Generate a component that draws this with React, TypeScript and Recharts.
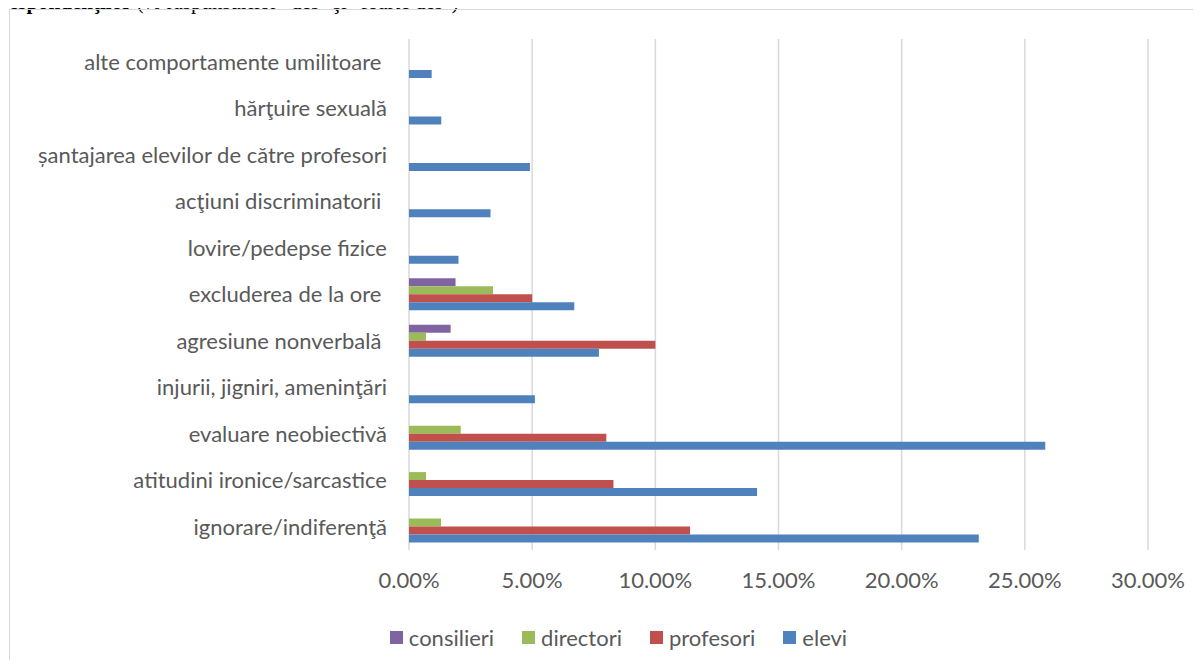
import React from 'react';
import {
  BarChart,
  Bar,
  XAxis,
  YAxis,
  CartesianGrid,
  Legend,
} from 'recharts';

const CATEGORIES = [
  'alte comportamente umilitoare\u00a0',
  'hărţuire sexuală',
  'șantajarea elevilor de către profesori',
  'acţiuni discriminatorii\u00a0',
  'lovire/pedepse fizice',
  'excluderea de la ore\u00a0',
  'agresiune nonverbală\u00a0',
  'injurii, jigniri, ameninţări',
  'evaluare neobiectivă',
  'atitudini ironice/sarcastice',
  'ignorare/indiferenţă',
];

// values in %, null = no answer for that group
const CONSILIERI = [null, null, null, null, null, 1.89, 1.69, null, null, null, null];
const DIRECTORI = [null, null, null, null, null, 3.41, 0.69, null, 2.1, 0.69, 1.3];
const PROFESORI = [null, null, null, null, null, 5.0, 10.0, null, 8.01, 8.3, 11.41];
const ELEVI = [0.92, 1.31, 4.91, 3.31, 2.01, 6.71, 7.71, 5.11, 25.83, 14.13, 23.13];

const X_TICKS = [0, 5, 10, 15, 20, 25, 30];

const SERIES = [
  { key: 'consilieri', color: '#8064A2' },
  { key: 'directori', color: '#9BBB59' },
  { key: 'profesori', color: '#C0504D' },
  { key: 'elevi', color: '#4F81BD' },
];

const data = CATEGORIES.map((name, i) => ({
  name,
  consilieri: CONSILIERI[i],
  directori: DIRECTORI[i],
  profesori: PROFESORI[i],
  elevi: ELEVI[i],
}));

const FONT = 'Lato, "Open Sans", sans-serif';
const TEXT = '#595959';

function LegendContent(props: any) {
  const items = props.payload || [];
  const ordered = SERIES.map((s) => items.find((it: any) => it.dataKey === s.key || it.value === s.key)).filter(Boolean);
  return (
    <div style={{ display: 'flex', justifyContent: 'center', gap: 28, paddingLeft: 36, fontFamily: FONT, fontSize: 22, color: TEXT }}>
      {ordered.map((it: any) => (
        <div key={it.value} style={{ display: 'flex', alignItems: 'center', gap: 6 }}>
          <div style={{ width: 13, height: 13, background: it.color }} />
          <span>{it.value}</span>
        </div>
      ))}
    </div>
  );
}

export default function App() {
  return (
    <div style={{ position: 'relative', margin: -8, width: 1201, height: 668, overflow: 'hidden', background: '#fff' }}>
      <div
        style={{
          position: 'absolute',
          left: 0,
          top: -8,
          fontFamily: '"Liberation Serif", serif',
          fontSize: 21,
          lineHeight: '21px',
          whiteSpace: 'nowrap',
          color: '#000',
        }}
      >
        <b>respondenţilor</b> (% răspunsurilor "des" şi "foarte des")
      </div>
      <div
        style={{
          position: 'absolute',
          left: 9,
          top: 9,
          width: 1210,
          height: 680,
          border: '1.5px solid #d9d9d9',
        }}
      />
      <div style={{ position: 'absolute', left: 0, top: 0 }}>
        <BarChart
          width={1201}
          height={668}
          data={data}
          layout="vertical"
          margin={{ top: 39, right: 53, left: 0, bottom: 51 }}
          barGap={0}
        >
          <CartesianGrid horizontal={false} stroke="#d9d9d9" strokeWidth={1.5} />
          <XAxis
            type="number"
            domain={[0, 30]}
            ticks={X_TICKS}
            tickFormatter={(v: number) => v.toFixed(2) + '%'}
            axisLine={false}
            tickLine={false}
            tickSize={0}
            tickMargin={22}
            height={40}
            tick={{ fill: TEXT, fontSize: 22, fontFamily: FONT }}
          />
          <YAxis
            type="category"
            dataKey="name"
            width={409}
            axisLine={false}
            tickLine={false}
            tickSize={0}
            tickMargin={22}
            interval={0}
            tick={{ fill: TEXT, fontSize: 22, fontFamily: FONT }}
          />
          <Legend verticalAlign="bottom" content={<LegendContent />} wrapperStyle={{ left: 0, width: 1201, top: 624 }} />
          {SERIES.map((s) => (
            <Bar key={s.key} dataKey={s.key} fill={s.color} barSize={8} isAnimationActive={false} />
          ))}
        </BarChart>
      </div>
    </div>
  );
}
